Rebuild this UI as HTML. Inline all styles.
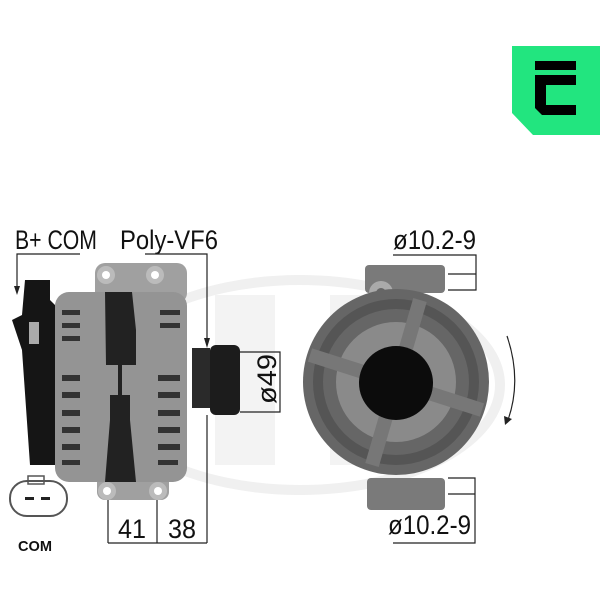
<!DOCTYPE html>
<html><head><style>
html,body{margin:0;padding:0;background:#fff;}
svg{display:block;}
text{font-family:"Liberation Sans",sans-serif;fill:#111;}
</style></head><body>
<svg width="600" height="600" viewBox="0 0 600 600" xmlns="http://www.w3.org/2000/svg">
<!-- watermark -->
<ellipse cx="300" cy="385" rx="200" ry="105" fill="none" stroke="#f0f0f0" stroke-width="10"/>
<rect x="215" y="295" width="60" height="170" fill="#f3f3f3"/>
<rect x="330" y="295" width="50" height="170" fill="#f3f3f3"/>
<!-- logo -->
<path d="M512 46 H600 V135 H533 L512 113 Z" fill="#22e57f"/>
<rect x="535" y="61" width="41" height="9" fill="#000"/>
<path d="M535 75 H576 V96 H546 V105 H576 V115 H542 L535 108 Z" fill="#000"/>
<rect x="546" y="85" width="30" height="11" fill="#22e57f"/>

<!-- labels -->
<text x="15" y="249" font-size="27" textLength="82" lengthAdjust="spacingAndGlyphs">B+ COM</text>
<text x="120" y="249" font-size="27" textLength="98" lengthAdjust="spacingAndGlyphs">Poly-VF6</text>
<text x="393" y="249" font-size="27" textLength="83" lengthAdjust="spacingAndGlyphs">ø10.2-9</text>
<text x="388" y="534" font-size="27" textLength="83" lengthAdjust="spacingAndGlyphs">ø10.2-9</text>
<text x="118" y="538" font-size="27" textLength="28" lengthAdjust="spacingAndGlyphs">41</text>
<text x="168" y="538" font-size="27" textLength="28" lengthAdjust="spacingAndGlyphs">38</text>
<text x="18" y="551" font-size="15" font-weight="bold" textLength="34" lengthAdjust="spacingAndGlyphs">COM</text>
<text font-size="27" transform="translate(276,404) rotate(-90)" textLength="50" lengthAdjust="spacingAndGlyphs">ø49</text>

<g stroke="#222" stroke-width="1.2" fill="none">
<polyline points="80,254 17,254 17,288"/>
<polyline points="145,254 207,254 207,340"/>
<line x1="207" y1="415" x2="207" y2="543"/>
<line x1="108" y1="500" x2="108" y2="543"/>
<line x1="157" y1="500" x2="157" y2="543"/>
<line x1="108" y1="543" x2="207" y2="543"/>
<polyline points="240,352 280,352 280,412 240,412"/>
<polyline points="393,255 476,255 476,290 448,290"/>
<line x1="448" y1="274" x2="476" y2="274"/>
<polyline points="448,478 475,478 475,543 393,543"/>
<line x1="448" y1="494" x2="475" y2="494"/>
<path d="M507 336 Q522 380 508 420"/>
</g>
<path d="M14 286 L20 286 L17 295Z" fill="#222"/>
<path d="M204 338 L210 338 L207 348Z" fill="#222"/>
<path d="M504 416 L512 419 L505 425Z" fill="#222"/>

<!-- left alternator -->
<rect x="95" y="263" width="92" height="40" rx="10" fill="#a0a0a0"/>
<circle cx="106" cy="275" r="9" fill="#bbb"/><circle cx="106" cy="275" r="4" fill="#fff"/>
<circle cx="155" cy="275" r="9" fill="#bbb"/><circle cx="155" cy="275" r="4" fill="#fff"/>
<rect x="97" y="470" width="72" height="30" rx="8" fill="#a0a0a0"/>
<circle cx="107" cy="491" r="9" fill="#bbb"/><circle cx="107" cy="491" r="4" fill="#fff"/>
<circle cx="158" cy="491" r="9" fill="#bbb"/><circle cx="158" cy="491" r="4" fill="#fff"/>
<rect x="55" y="292" width="132" height="190" rx="14" fill="#949494"/>
<path d="M105 292 H132 L136 330 V365 H122 V395 H130 V420 L136 482 H105 L110 420 V395 H118 V365 H106 Z" fill="#222"/>
<g fill="#333">
<rect x="62" y="310" width="18" height="5"/><rect x="62" y="323" width="18" height="5"/><rect x="62" y="336" width="18" height="5"/>
<rect x="62" y="375" width="18" height="6"/><rect x="62" y="392" width="18" height="6"/><rect x="62" y="410" width="18" height="6"/><rect x="62" y="427" width="18" height="6"/><rect x="62" y="444" width="18" height="6"/><rect x="62" y="460" width="18" height="5"/>
<rect x="160" y="310" width="20" height="5"/><rect x="160" y="323" width="20" height="5"/>
<rect x="158" y="375" width="22" height="6"/><rect x="158" y="392" width="22" height="6"/><rect x="158" y="410" width="22" height="6"/><rect x="158" y="427" width="22" height="6"/><rect x="158" y="444" width="22" height="6"/><rect x="158" y="460" width="20" height="5"/>
</g>
<path d="M25 280 H50 V300 L55 305 V465 H30 L22 350 L12 320 L22 315 Z" fill="#151515"/>
<rect x="29" y="322" width="10" height="22" fill="#aaa"/>
<rect x="192" y="348" width="18" height="60" fill="#2a2a2a"/>
<rect x="210" y="345" width="30" height="70" rx="6" fill="#1c1c1c"/>

<!-- COM connector -->
<rect x="10" y="481" width="57" height="35" rx="17" fill="none" stroke="#555" stroke-width="2"/>
<rect x="28" y="476" width="16" height="8" fill="none" stroke="#555" stroke-width="1.5"/>
<rect x="25" y="497" width="9" height="3" fill="#222"/><rect x="41" y="497" width="9" height="3" fill="#222"/>

<!-- right alternator -->
<rect x="365" y="265" width="80" height="28" rx="4" fill="#7a7a7a"/>
<circle cx="381" cy="293" r="12" fill="#aaa"/><circle cx="381" cy="293" r="5" fill="#666"/>
<rect x="367" y="478" width="78" height="32" rx="4" fill="#7a7a7a"/>
<circle cx="396" cy="382" r="93" fill="#666"/>
<circle cx="396" cy="382" r="78" fill="none" stroke="#555" stroke-width="10"/>
<circle cx="396" cy="382" r="60" fill="#8a8a8a"/>
<g stroke="#777" stroke-width="14">
<line x1="310" y1="355" x2="482" y2="410"/>
<line x1="420" y1="300" x2="372" y2="465"/>
</g>
<circle cx="396" cy="383" r="37" fill="#0c0c0c"/>
</svg>
</body></html>
